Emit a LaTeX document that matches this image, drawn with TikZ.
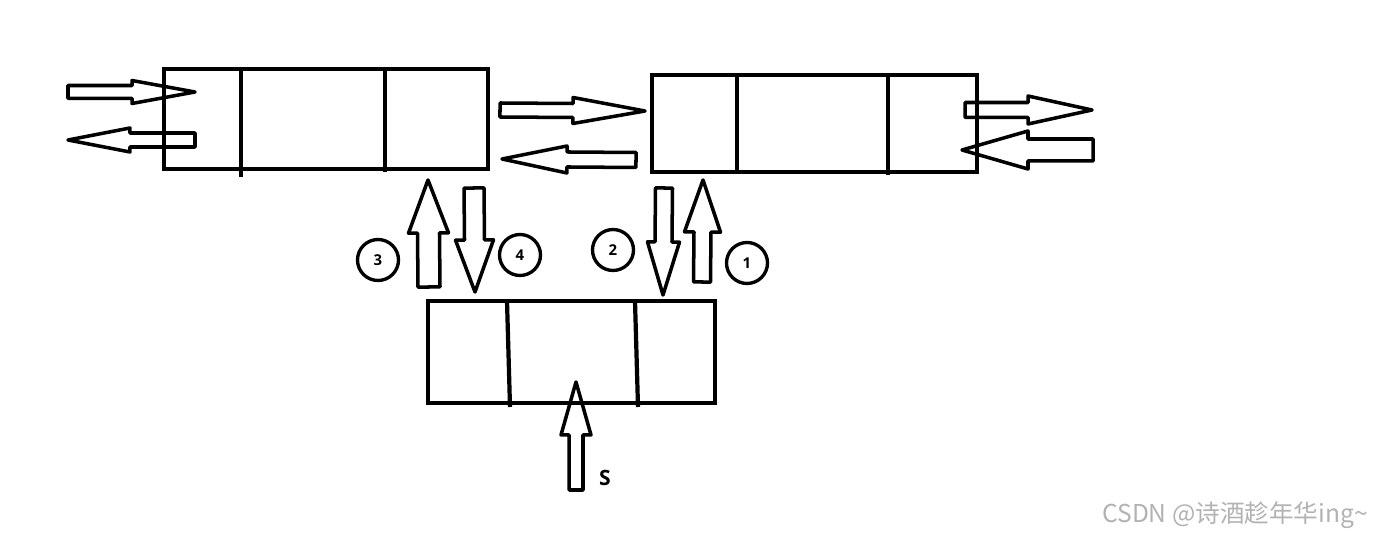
\documentclass[tikz,border=0pt]{standalone}
\usepackage{fontspec}
\setsansfont{Open Sans}
\newfontfamily\cjk{Noto Sans CJK SC}
\usetikzlibrary{calc}
\tikzset{
  cell/.style={draw=black,line width=2.4pt,inner sep=0pt},
  wall/.style={draw=black,line width=2.4pt},
  hollow/.style={draw=black,line width=2pt,line join=round},
  tag/.style={circle,draw=black,line width=1.9pt,minimum size=0.82cm,inner sep=0pt,font=\sffamily\bfseries\fontsize{8.5}{8.5}\selectfont},
  wmark/.style={font=\cjk\fontsize{14}{14}\selectfont,text=black!30,anchor=east}
}
% block arrow: tail, tip, head length, shaft half width, head half width (px)
\newcommand{\barrow}[5]{%
  \coordinate (hd) at ($(#2)!#3*0.2mm!(#1)$);
  \draw[hollow] ($(#1)!#4*0.2mm!90:(#2)$) -- ($(hd)!#4*0.2mm!90:(#2)$) -- ($(hd)!#5*0.2mm!90:(#2)$) -- (#2)
    -- ($(hd)!#5*0.2mm!-90:(#2)$) -- ($(hd)!#4*0.2mm!-90:(#2)$) -- ($(#1)!#4*0.2mm!-90:(#2)$) -- cycle;}

\begin{document}
\begin{tikzpicture}[x=0.02cm,y=-0.02cm]
  \useasboundingbox (0,0) rectangle (1379,536);
  % list nodes
  \node[cell,minimum width=6.48cm,minimum height=2cm] (prev) at (326,119) {};
  \node[cell,minimum width=6.5cm,minimum height=1.94cm] (next) at (814.5,123.5) {};
  \node[cell,minimum width=5.74cm,minimum height=2.04cm] (new) at (571.5,352) {};
  \draw[wall] (241,69) -- (241,177);
  \draw[wall] (385,69) -- (385,172);
  \draw[wall] (737,75) -- (737,172);
  \draw[wall] (888,75) -- (888,175);
  \draw[wall] (507,301) -- (510,407);
  \draw[wall] (635,301) -- (638,407);
  % links
  \barrow{68,92}{195,92}{63}{6.5}{11.5}
  \barrow{195,140}{68,140}{62}{7}{12}
  \barrow{500,110}{645,111}{72}{7}{13}
  \barrow{636,160}{502,159}{65}{7.5}{13.5}
  \barrow{965,110}{1092,110}{64}{7.5}{14}
  \barrow{1093,150}{962,150}{66}{11}{19}
  \barrow{429,287}{428,180}{53}{11}{20}
  \barrow{474,188}{475,292}{52}{10}{19}
  \barrow{664,188}{663,295}{53}{8.5}{16}
  \barrow{702,282}{703,180}{52}{8.5}{18}
  \barrow{576,490}{576,382}{53}{7}{15}
  % step numbers
  \node[tag] (three) at (378,260) {3};
  \node[tag] (four) at (520,255) {4};
  \node[tag] (two) at (613,250) {2};
  \node[tag] (one) at (747,263) {1};
  \node[font=\sffamily\bfseries\fontsize{12}{12}\selectfont] (slabel) at (605,478) {S};
  \node[wmark] (credit) at (1374,515) {CSDN @诗酒趁年华ing\textasciitilde};
\end{tikzpicture}
\end{document}
